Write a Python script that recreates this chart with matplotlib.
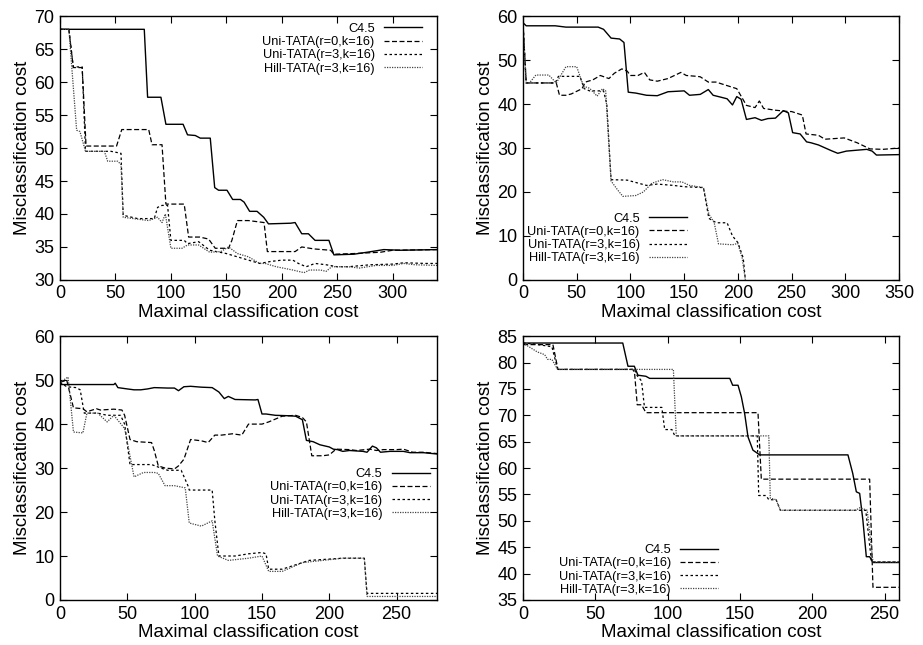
import numpy as np
import matplotlib
matplotlib.use("Agg")
import matplotlib.pyplot as plt

plt.rcParams['font.family'] = ['Liberation Sans', 'DejaVu Sans']

labels = ["C4.5", "Uni-TATA(r=0,k=16)", "Uni-TATA(r=3,k=16)", "Hill-TATA(r=3,k=16)"]

#### panel 1 (top left)
p1_c45_x = [0, 76, 79, 91, 95.5, 111, 115, 122, 126.5, 135.5, 139.5, 143, 150.6, 155.7, 162.7, 166,
            171, 177.7, 183.7, 188, 208, 212, 218, 224, 230, 242.5, 247, 265, 277, 292, 307, 340]
p1_c45_y = [68, 68, 57.7, 57.7, 53.6, 53.6, 52, 51.9, 51.5, 51.5, 44, 43.6, 43.6, 42.2, 42.2, 41.8,
            40.4, 40.4, 39.5, 38.5, 38.6, 38.7, 37, 37, 36, 36, 33.8, 33.9, 34.2, 34.6, 34.5, 34.6]
p1_r0_x = [0, 8, 12, 20, 23.5, 51, 55.7, 80, 83, 92, 95.5, 112, 116, 126, 134, 140, 152, 155, 160,
           170, 184, 187, 212, 218, 229, 244, 247, 265, 289, 300, 340]
p1_r0_y = [68, 68, 62.2, 62.2, 50.3, 50.3, 52.8, 52.8, 50.5, 50.5, 41.5, 41.5, 36.5, 36.5, 36.2,
           34.8, 34.8, 36, 39, 39, 38.7, 34.3, 34.3, 35, 34.7, 34.5, 33.9, 34, 34.2, 34.5, 34.6]
p1_r3_x = [0, 8, 12, 20, 23, 46, 55, 57, 70, 85, 88, 92, 97, 100, 112, 115, 125, 135, 150, 160,
           170, 180, 190, 200, 210, 215, 222, 230, 240, 250, 260, 280, 300, 310, 330, 340]
p1_r3_y = [68, 68, 62.3, 62.3, 49.5, 49.5, 49.2, 39.8, 39.3, 39.3, 41, 41.3, 41.3, 36, 36, 35.5,
           35.8, 34.5, 34, 33.5, 33, 32.5, 32.8, 33, 33, 32.5, 32, 32.5, 32.3, 32, 32, 32.3, 32.4,
           32.6, 32.5, 32.5]
p1_hill_x = [0, 8, 15, 18, 23, 40, 43, 52, 55, 57, 80, 88, 92, 95, 100, 110, 115, 125, 135, 145,
             152, 160, 170, 180, 185, 195, 210, 220, 225, 235, 240, 245, 260, 270, 285, 300, 310,
             320, 340]
p1_hill_y = [68, 68, 52.7, 52.5, 49.5, 49.5, 48, 48, 47.5, 39.5, 39, 39.5, 38.7, 40, 34.8, 34.8,
             35.3, 35.3, 34.2, 34.3, 35, 34, 33.5, 32.5, 32.5, 32, 31.5, 31.1, 31.5, 31.5, 31.3,
             32, 32, 31.8, 32.2, 32.2, 32.5, 32.3, 32.2]

#### panel 2 (top right)
p2_c45_x = [0, 3, 30, 40, 70, 75, 82, 90, 94, 98, 105, 115, 125, 135, 150, 155, 165, 172.5, 177,
            183.6, 190, 195, 199, 203, 208, 216, 222, 228, 235, 242.3, 247, 251, 258, 264, 268,
            275, 287, 293, 301, 320, 325, 329, 350]
p2_c45_y = [58.5, 57.8, 57.8, 57.5, 57.5, 57, 55, 54.8, 54, 42.7, 42.5, 42, 41.9, 42.8, 43, 42,
            42.2, 43.3, 42, 41.6, 41.2, 39.8, 41.7, 41.1, 36.5, 36.9, 36.3, 36.7, 36.8, 38.5, 38,
            33.5, 33.2, 31.4, 31.2, 30.7, 29.4, 28.8, 29.3, 29.7, 29.3, 28.4, 28.5]
p2_r0_x = [0, 3, 31, 34, 40, 45, 55, 58, 65, 72, 80, 85, 92, 97, 100, 107, 113, 118, 125, 135,
           147, 152, 162, 165, 172.5, 179.6, 199, 208, 216, 220, 224, 235, 247, 250, 260, 263.5,
           275, 281, 299, 311, 323, 335, 350]
p2_r0_y = [58.5, 44.8, 44.8, 42, 42, 42.3, 43.5, 45, 45.5, 46.5, 45.8, 47, 48, 47.5, 46.5, 46.5,
           47.2, 45.5, 45.2, 45.8, 47.2, 46.5, 46.3, 46.2, 45, 45, 43.5, 39.7, 39.2, 40.7, 39,
           38.6, 38.3, 38.3, 37.5, 33.2, 32.9, 32, 32.3, 31.2, 29.8, 29.7, 30]
p2_r3_x = [0, 3, 30, 33, 53, 57, 62, 75, 78, 82, 97, 100, 115, 125, 140, 150, 168, 173, 180, 190,
           195, 200, 205, 207]
p2_r3_y = [58.5, 44.8, 44.8, 46.3, 46.3, 43.5, 43, 43, 40, 22.8, 22.7, 22.5, 21.5, 21.8, 21.5,
           21.2, 21, 14, 13, 13, 10, 8.5, 5, 0]
p2_hill_x = [0, 3, 6, 12, 24, 31, 40, 50, 55, 57, 62, 69, 74, 77, 80, 82, 88, 93, 105, 112, 120,
             130, 140, 148, 155, 168, 173, 178, 182, 195, 200, 204, 207]
p2_hill_y = [58.5, 44.8, 44.8, 46.6, 46.6, 44.8, 48.5, 48.5, 45, 44, 43.6, 41.8, 43.5, 43, 30.4,
             22.5, 20.5, 19, 19.2, 20, 22, 22.8, 22.3, 22.3, 21.5, 21, 15, 13, 8.2, 8, 8.3, 5, 0]

#### panel 3 (bottom left)
p3_c45_x = [0, 40, 41, 43, 50, 55, 60, 65, 70, 80, 85, 88, 92, 97, 105, 113, 118, 122, 125, 130,
            145, 147, 150, 153, 160, 170, 175, 180, 183, 188, 193, 200, 203, 206, 210, 215, 225,
            228, 232, 235, 238, 245, 255, 260, 270, 280]
p3_c45_y = [49, 49, 49.3, 48.3, 48, 47.8, 47.8, 48, 48.3, 48.2, 48.2, 47.6, 48.5, 48.6, 48.4,
            48.3, 47.3, 45.8, 46.3, 45.6, 45.5, 45.6, 42.3, 42.3, 42, 41.9, 41.8, 41, 36.3, 36,
            35.3, 34.8, 34.3, 34.2, 33.8, 34, 33.8, 33.6, 35, 34.6, 33.6, 33.8, 33.8, 33.5, 33.5,
            33.2]
p3_r0_x = [0, 5, 10, 17, 20, 27, 30, 40, 46, 48, 52, 57, 68, 70, 73, 78, 85, 88, 92, 97, 105,
           110, 115, 120, 128, 135, 140, 150, 155, 165, 175, 180, 183, 187, 195, 200, 205, 215,
           220, 230, 235, 240, 250, 255, 262, 270, 280]
p3_r0_y = [49.5, 50, 43.7, 43.5, 42.8, 43.5, 43.2, 43.4, 43.2, 42, 36.5, 36, 35.8, 34, 30.5, 30,
           29.8, 30.5, 32, 36.5, 36.2, 35.8, 37.5, 37.5, 37.8, 37.5, 40, 40, 40.5, 41.8, 42, 41.5,
           40.5, 32.8, 32.8, 33, 34.3, 34.2, 34, 34.3, 34, 34.2, 34.2, 34.3, 33.6, 33.6, 33.3]
p3_r3_x = [0, 5, 12, 15, 18, 28, 35, 45, 48, 52, 68, 75, 80, 90, 95, 96, 113, 115, 118, 130,
           140, 150, 153, 155, 165, 170, 185, 195, 210, 226, 228, 280]
p3_r3_y = [49.5, 48.5, 48.3, 47.8, 42.5, 42.5, 42, 42, 40, 30.8, 30.8, 30, 29.5, 29.5, 26, 25,
           25, 18, 10, 10, 10.5, 10.8, 10.5, 7, 7, 7.5, 9, 9.2, 9.5, 9.5, 1.5, 1.5]
p3_hill_x = [0, 6, 10, 17, 20, 28, 35, 40, 48, 55, 62, 70, 73, 78, 85, 93, 96, 105, 113, 117,
             125, 140, 150, 155, 165, 180, 195, 210, 226, 228, 280]
p3_hill_y = [49.5, 50.7, 38.2, 38, 42.5, 42.5, 40.5, 42, 39, 28, 29, 29, 28.8, 26, 26, 25.5, 17.5,
             16.8, 18, 10, 9, 9.5, 10, 6.5, 6.5, 8.5, 9, 9.5, 9.5, 0.8, 0.8]

#### panel 4 (bottom right)
p4_c45_x = [0, 69, 72.6, 77, 79.5, 85, 87.6, 143, 145, 148.7, 151, 153.3, 155.6, 159, 163.7,
            224.7, 228, 230.5, 232.8, 235, 237.4, 239.7, 242, 260]
p4_c45_y = [83.7, 83.7, 79.3, 79.3, 77.6, 77.4, 77, 77, 75.7, 75.7, 73.5, 70.3, 65.9, 63.4, 62.5,
            62.5, 59, 55.5, 55.2, 50.2, 43.2, 43.2, 42.1, 42.1]
p4_r0_x = [0, 20.7, 24.2, 76, 77.2, 79, 82, 85, 162.5, 164.8, 239.7, 242, 260]
p4_r0_y = [83.4, 83.4, 78.7, 78.7, 77.9, 72, 72, 70.5, 70.5, 57.9, 57.9, 37.4, 37.4]
p4_r3_x = [0, 8, 20, 24, 77, 79, 82, 84, 96, 98, 103, 105, 162, 163, 168, 170, 175, 178, 237,
           241, 260]
p4_r3_y = [83.7, 83.5, 83, 78.7, 78.7, 77.5, 76.5, 71.5, 71.5, 67.3, 67.3, 66.1, 66.1, 54.8,
           54.8, 54, 54, 52, 52, 42.2, 42.2]
p4_hill_x = [0, 10, 15, 17, 20, 24, 104, 106, 170, 171, 175, 178, 230, 233, 238, 242, 260]
p4_hill_y = [83.7, 82, 81.5, 80.6, 80.6, 78.7, 78.7, 66.1, 66.1, 54.3, 54, 52, 52, 52.5, 52,
             42.2, 42.2]

panels = [
    dict(rect=[0.065, 0.566, 0.4085, 0.409], xlim=(0, 340), ylim=(30, 70),
         xt=np.arange(0, 301, 50), yt=np.arange(30, 71, 5),
         series=[(p1_c45_x, p1_c45_y), (p1_r0_x, p1_r0_y), (p1_r3_x, p1_r3_y), (p1_hill_x, p1_hill_y)],
         leg=(0.96, 0.975)),
    dict(rect=[0.5666, 0.566, 0.4074, 0.409], xlim=(0, 350), ylim=(0, 60),
         xt=np.arange(0, 351, 50), yt=np.arange(0, 61, 10),
         series=[(p2_c45_x, p2_c45_y), (p2_r0_x, p2_r0_y), (p2_r3_x, p2_r3_y), (p2_hill_x, p2_hill_y)],
         leg=(0.436, 0.255)),
    dict(rect=[0.065, 0.0698, 0.4085, 0.409], xlim=(0, 280), ylim=(0, 60),
         xt=np.arange(0, 251, 50), yt=np.arange(0, 61, 10),
         series=[(p3_c45_x, p3_c45_y), (p3_r0_x, p3_r0_y), (p3_r3_x, p3_r3_y), (p3_hill_x, p3_hill_y)],
         leg=(0.981, 0.5)),
    dict(rect=[0.5666, 0.0698, 0.4074, 0.409], xlim=(0, 260), ylim=(35, 85),
         xt=np.arange(0, 251, 50), yt=np.arange(35, 86, 5),
         series=[(p4_c45_x, p4_c45_y), (p4_r0_x, p4_r0_y), (p4_r3_x, p4_r3_y), (p4_hill_x, p4_hill_y)],
         leg=(0.519, 0.212)),
]

styles = [
    dict(color="black", lw=1.0, ls="-"),
    dict(color="black", lw=0.9, ls=(0, (4, 2))),
    dict(color="black", lw=0.9, ls=(0, (2, 2))),
    dict(color="#444444", lw=0.9, ls=(0, (1, 1))),
]


def plot():
    fig = plt.figure(figsize=(9.23, 6.45), dpi=100)
    for p in panels:
        ax = fig.add_axes(p["rect"])
        for (x, y), st, lab in zip(p["series"], styles, labels):
            ax.plot(x, y, label=lab, **st)
        ax.set_xlim(*p["xlim"])
        ax.set_ylim(*p["ylim"])
        ax.set_xticks(p["xt"])
        ax.set_yticks(p["yt"])
        ax.tick_params(direction="in", top=True, right=True, length=5, width=0.8,
                       labelsize=13, pad=4)
        for s in ax.spines.values():
            s.set_linewidth(1.0)
        ax.set_xlabel("Maximal classification cost", fontsize=13.5, labelpad=1)
        ax.set_ylabel("Misclassification cost", fontsize=13.5, labelpad=2)
        ax.legend(loc="upper right", bbox_to_anchor=p["leg"], frameon=False, markerfirst=False,
                  fontsize=9.2, handlelength=3.0, handletextpad=0.7, labelspacing=0.1,
                  borderpad=0, borderaxespad=0)
    fig.savefig("out.png", dpi=100)


if __name__ == "__main__":
    plot()
